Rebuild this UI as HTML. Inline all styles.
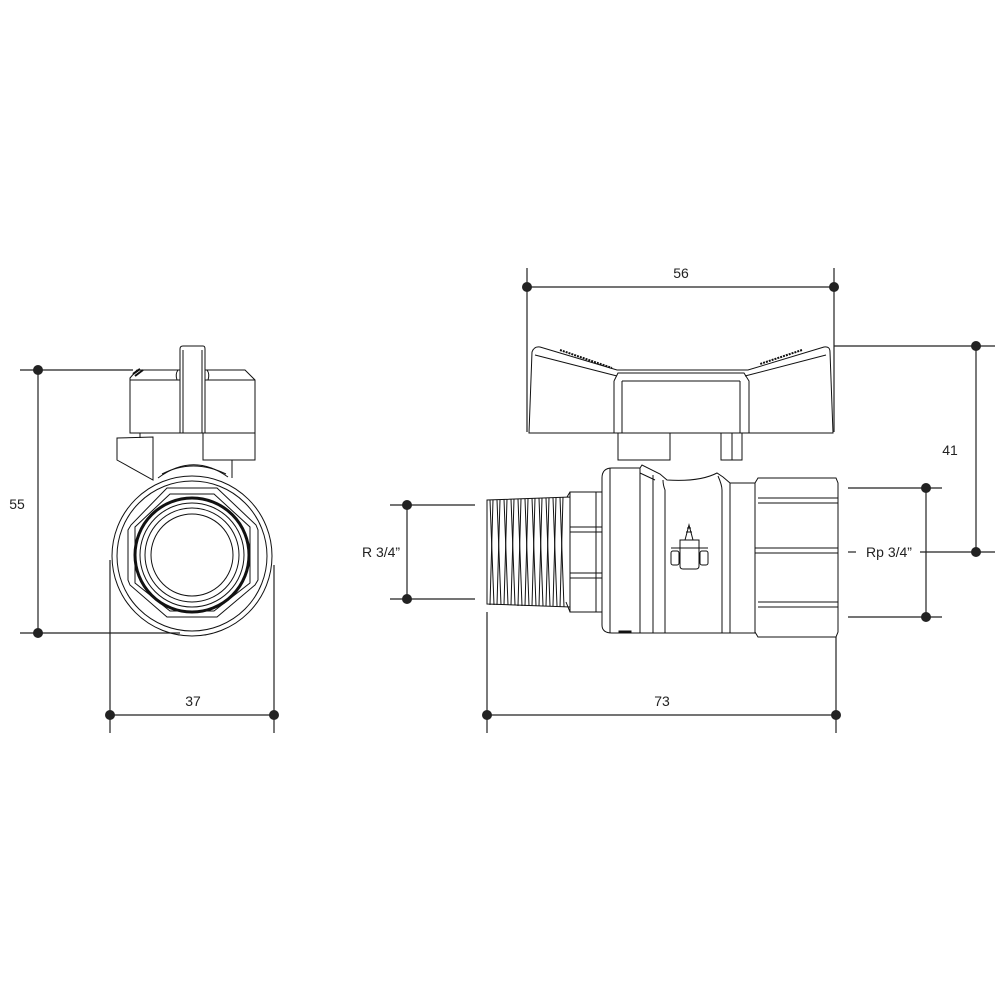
<!DOCTYPE html>
<html><head><style>html,body{margin:0;padding:0;background:#fff}svg{display:block}</style></head>
<body>
<svg width="1000" height="1000" viewBox="0 0 1000 1000" xmlns="http://www.w3.org/2000/svg" font-family="Liberation Sans, Arial, sans-serif">
<rect width="1000" height="1000" fill="#fff"/>
<g stroke="#222" stroke-width="1.2" fill="none">
  <line x1="20" y1="370" x2="133" y2="370"/>
  <line x1="20" y1="633" x2="180" y2="633"/>
  <line x1="38" y1="370" x2="38" y2="633"/>
  <line x1="110" y1="560" x2="110" y2="733"/>
  <line x1="274" y1="565" x2="274" y2="733"/>
  <line x1="110" y1="715" x2="274" y2="715"/>
  <line x1="527" y1="268" x2="527" y2="432"/>
  <line x1="834" y1="268" x2="834" y2="432"/>
  <line x1="527" y1="287" x2="834" y2="287"/>
  <line x1="834" y1="346" x2="995" y2="346"/>
  <line x1="976" y1="346" x2="976" y2="552"/>
  <line x1="920" y1="552" x2="995" y2="552"/>
  <line x1="848" y1="552" x2="856" y2="552"/>
  <line x1="848" y1="488" x2="942" y2="488"/>
  <line x1="848" y1="617" x2="942" y2="617"/>
  <line x1="926" y1="488" x2="926" y2="617"/>
  <line x1="390" y1="505" x2="475" y2="505"/>
  <line x1="390" y1="599" x2="475" y2="599"/>
  <line x1="407" y1="505" x2="407" y2="599"/>
  <line x1="487" y1="612" x2="487" y2="733"/>
  <line x1="836" y1="637" x2="836" y2="733"/>
  <line x1="487" y1="715" x2="836" y2="715"/>
</g>
<g fill="#222">
  <circle cx="38" cy="370" r="5"/><circle cx="38" cy="633" r="5"/>
  <circle cx="110" cy="715" r="5"/><circle cx="274" cy="715" r="5"/>
  <circle cx="527" cy="287" r="5"/><circle cx="834" cy="287" r="5"/>
  <circle cx="976" cy="346" r="5"/><circle cx="976" cy="552" r="5"/>
  <circle cx="926" cy="488" r="5"/><circle cx="926" cy="617" r="5"/>
  <circle cx="407" cy="505" r="5"/><circle cx="407" cy="599" r="5"/>
  <circle cx="487" cy="715" r="5"/><circle cx="836" cy="715" r="5"/>
</g>
<g fill="#222" font-size="14">
  <text x="17" y="509" text-anchor="middle">55</text>
  <text x="193" y="706" text-anchor="middle">37</text>
  <text x="681" y="278" text-anchor="middle">56</text>
  <text x="950" y="455" text-anchor="middle">41</text>
  <text x="889" y="557" text-anchor="middle">Rp 3/4”</text>
  <text x="381" y="557" text-anchor="middle">R 3/4”</text>
  <text x="662" y="706" text-anchor="middle">73</text>
</g>

<!-- LEFT VIEW -->
<g stroke="#111" stroke-width="1" fill="none">
  <path d="M130 378 L137 370 L245 370 L255 380 L255 433 L130 433 Z" fill="#fff"/>
  <line x1="130" y1="380" x2="180" y2="380"/><line x1="205" y1="380" x2="255" y2="380"/>
  <path d="M183 346 L203 346 Q205 346 205 349 L205 433 L180 433 L180 349 Q180 346 183 346 Z" fill="#fff"/>
  <line x1="183" y1="350" x2="183" y2="433"/><line x1="202" y1="350" x2="202" y2="433"/>
  <path d="M178 370 Q175 374 177 380 M207 370 Q210 374 208 380"/>
  <path d="M133 374 L140 369 M135 376 L143 370" stroke-width="2"/>
  <path d="M203 433 L203 460 L255 460 L255 433"/>
  <path d="M117 438 L153 437 L153 480 L117 460 Z"/>
  <line x1="140" y1="433" x2="140" y2="438"/>
  <line x1="232" y1="460" x2="232" y2="478"/>
  <path d="M158 478 Q193 452 228 477"/>
  <path d="M162 474 Q193 458 226 474"/>
  <circle cx="192" cy="556" r="80"/>
  <circle cx="192" cy="556" r="75"/>
  <path d="M167 488 L217 488 L256 525 L258 530 L258 580 L255 585 L217 617 L167 617 L130 585 L128 580 L128 530 L131 525 Z"/>
  <path d="M170 494 L214 494 L250 527 L250 583 L214 611 L170 611 L135 583 L135 527 Z"/>
  <circle cx="192" cy="555" r="57" stroke-width="3"/>
  <circle cx="192" cy="555" r="52"/>
  <circle cx="192" cy="555" r="47"/>
  <circle cx="192" cy="555" r="41"/>
</g>

<!-- RIGHT VIEW -->
<g stroke="#111" stroke-width="1" fill="none">
  <path d="M529 433 L532 352 Q534 346 540 347 L617 370 L748 370 L824 347 Q830 346 830 352 L833 433 Z"/>
  <path d="M535 355 L617 376 M826 355 L745 376"/>
  <path d="M614 381 L618 373 L744 373 L749 381 L749 433 M614 381 L614 433"/>
  <line x1="622" y1="381" x2="622" y2="433"/><line x1="740" y1="381" x2="740" y2="433"/>
  <line x1="622" y1="381" x2="740" y2="381"/>
  <path d="M560 350 L612 368" stroke-width="2" stroke-dasharray="2 1"/>
  <path d="M802 350 L760 364" stroke-width="2" stroke-dasharray="2 1"/>
  <rect x="618" y="433" width="52" height="27"/>
  <rect x="721" y="433" width="21" height="27"/>
  <line x1="732" y1="433" x2="732" y2="460"/>
  <path d="M640 468 L612 468 Q602 468 602 478 L602 625 Q602 633 612 633 L730 633 L730 483 L723 477 L717 473 Q700 482 667 480 L660 474 L642 465 Z"/>
  <line x1="610" y1="468" x2="610" y2="633"/>
  <line x1="640" y1="468" x2="640" y2="633"/>
  <line x1="653" y1="475" x2="653" y2="633"/>
  <path d="M663 480 Q663 485 665 490 L665 633"/>
  <path d="M718 476 Q722 485 722 490 L722 633"/>
  <path d="M640 473 L655 480" />
  <rect x="730" y="483" width="25" height="150"/>
  <path d="M758 478 L836 478 L838 483 L838 632 L836 637 L758 637 L755 632 L755 483 Z"/>
  <line x1="758" y1="498" x2="838" y2="498"/><line x1="758" y1="503" x2="838" y2="503"/>
  <line x1="755" y1="548" x2="838" y2="548"/><line x1="755" y1="553" x2="838" y2="553"/>
  <line x1="758" y1="602" x2="838" y2="602"/><line x1="758" y1="607" x2="838" y2="607"/>
  <path d="M570 492 L602 492 L602 612 L570 612 Z"/>
  <line x1="596" y1="492" x2="596" y2="612"/>
  <line x1="570" y1="527" x2="602" y2="527"/><line x1="570" y1="532" x2="602" y2="532"/>
  <line x1="570" y1="573" x2="602" y2="573"/><line x1="570" y1="578" x2="602" y2="578"/>
  <path d="M570 612 L566 602 M570 492 L567 497"/>
  <path d="M487 500 L570 497 L570 607 L487 604 Z"/>
  <path d="M490 500 L494 605 M497 500 L501 605 M504 499 L508 605 M511 499 L515 605 M518 499 L522 606 M525 499 L529 606 M532 498 L536 606 M539 498 L543 606 M546 498 L550 606 M553 498 L557 606 M560 497 L564 607"/>
  <path d="M493 500 L490 605 M500 500 L497 605 M507 499 L504 605 M514 499 L511 605 M521 499 L518 606 M528 499 L525 606 M535 498 L532 606 M542 498 L539 606 M549 498 L546 606 M556 498 L553 606 M563 497 L560 607"/>
  <rect x="619" y="631" width="12" height="2" fill="#111"/>
  <path d="M680 540 L699 540 L699 566 Q699 569 696 569 L683 569 Q680 569 680 566 Z"/>
  <rect x="671" y="551" width="8" height="14" rx="2"/>
  <rect x="700" y="551" width="8" height="14" rx="2"/>
  <line x1="671" y1="548" x2="708" y2="548"/>
  <path d="M685 540 L689 525 L693 540 M686 532 L692 532 M687 528 L691 528"/>
</g>
</svg>
</body></html>
